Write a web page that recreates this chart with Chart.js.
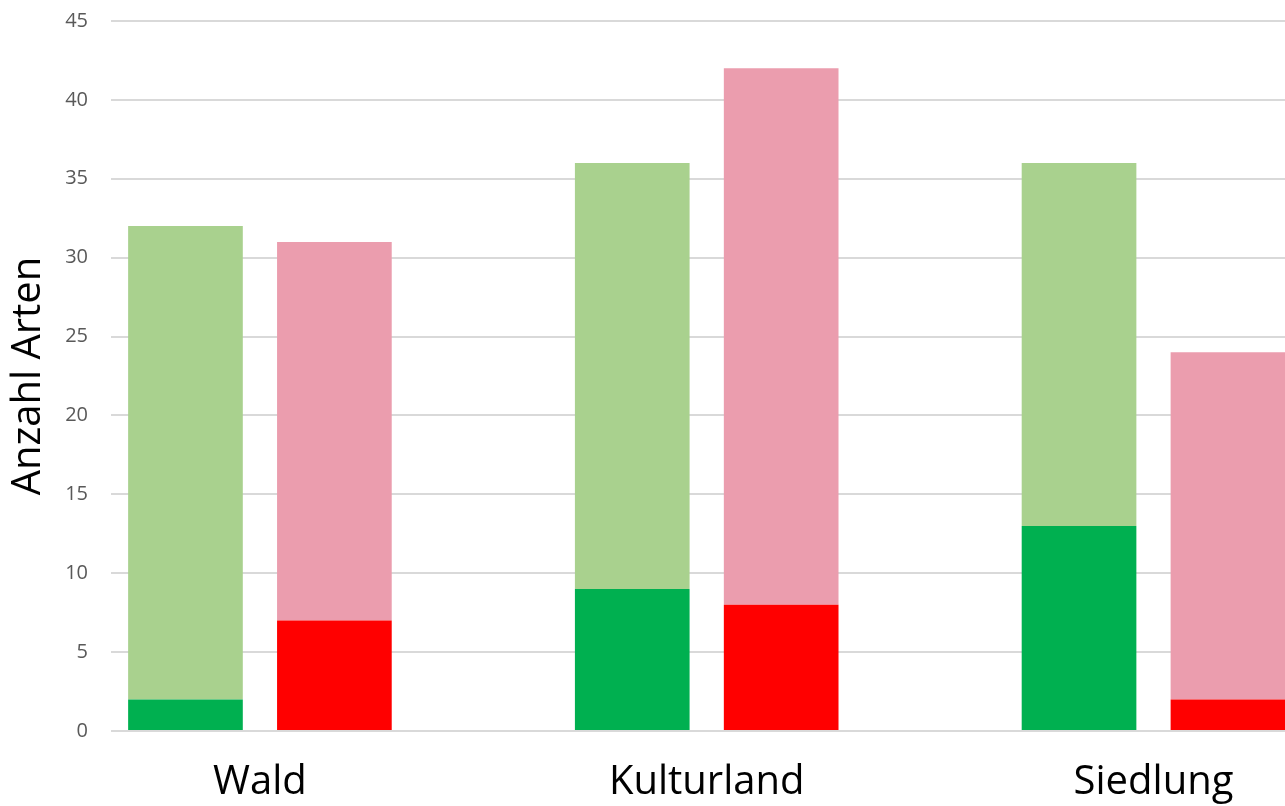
<!DOCTYPE html>
<html lang="de">
<head>
<meta charset="utf-8">
<title>Anzahl Arten nach Lebensraum</title>
<script src="https://cdn.jsdelivr.net/npm/chart.js@4/dist/chart.umd.min.js"></script>
<style>
  html, body { margin: 0; padding: 0; background: #ffffff; overflow: hidden; }
  canvas { display: block; }
</style>
</head>
<body>
<canvas id="chart" width="1285" height="806"></canvas>
<script>
// Lebensräume
const categories = ['Wald', 'Kulturland', 'Siedlung'];

// Grüne Säule: unterer (dunkler) Teil und oberer (heller) Teil
const greenLower = [2, 9, 13];
const greenUpper = [30, 27, 23];

// Rote Säule: unterer (kräftiger) Teil und oberer (heller) Teil
const redLower = [7, 8, 2];
const redUpper = [24, 34, 22];

// Y-Achse
const yTicks = [0, 5, 10, 15, 20, 25, 30, 35, 40, 45];

// Each habitat takes three slots on the x axis: green column, red column, gap.
const SLOTS_PER_GROUP = 3;
const greenSlot = i => i * SLOTS_PER_GROUP;
const redSlot = i => i * SLOTS_PER_GROUP + 1;
const labelSlot = i => i * SLOTS_PER_GROUP + 0.5;

const toPoints = (values, slotOf) => values.map((v, i) => ({ x: slotOf(i), y: v }));

const FONT = '"Open Sans", "Liberation Sans", sans-serif';

new Chart(document.getElementById('chart'), {
  type: 'bar',
  data: {
    datasets: [
      { label: 'grün unten', data: toPoints(greenLower, greenSlot), backgroundColor: '#00B050', stack: 'col' },
      { label: 'grün oben',  data: toPoints(greenUpper, greenSlot), backgroundColor: '#A9D18E', stack: 'col' },
      { label: 'rot unten',  data: toPoints(redLower, redSlot),     backgroundColor: '#FF0000', stack: 'col' },
      { label: 'rot oben',   data: toPoints(redUpper, redSlot),     backgroundColor: '#EB9DAE', stack: 'col' }
    ]
  },
  options: {
    responsive: false,
    animation: false,
    events: [],
    layout: { padding: { top: 21, right: 0, bottom: 0, left: 0 } },
    datasets: {
      bar: { categoryPercentage: 1, barPercentage: 0.77, borderWidth: 0 }
    },
    plugins: {
      legend: { display: false },
      tooltip: { enabled: false }
    },
    scales: {
      x: {
        type: 'linear',
        stacked: true,
        offset: false,
        min: -0.5,
        max: 7.383,
        grid: { display: false, drawTicks: false },
        border: { display: false },
        afterBuildTicks: scale => {
          scale.ticks = categories.map((c, i) => ({ value: labelSlot(i) }));
        },
        afterFit: scale => { scale.height = 75; },
        ticks: {
          autoSkip: false,
          maxRotation: 0,
          padding: 28,
          color: '#000000',
          font: { family: FONT, size: 40 },
          callback: (value, index) => categories[index]
        }
      },
      y: {
        stacked: true,
        min: yTicks[0],
        max: yTicks[yTicks.length - 1],
        afterBuildTicks: scale => {
          scale.ticks = yTicks.map(v => ({ value: v }));
        },
        afterFit: scale => {
          scale.width = 111;
          // the plot area edges are set by the layout padding alone
          scale.paddingTop = 0;
          scale.paddingBottom = 0;
        },
        grid: { color: '#D9D9D9', lineWidth: 2, drawTicks: false },
        border: { display: false },
        ticks: {
          padding: 23,
          color: '#595959',
          font: { family: FONT, size: 20 }
        },
        title: {
          display: true,
          text: 'Anzahl Arten',
          color: '#000000',
          font: { family: FONT, size: 40 },
          padding: { top: 5, bottom: 0 }
        }
      }
    }
  }
});
</script>
</body>
</html>
